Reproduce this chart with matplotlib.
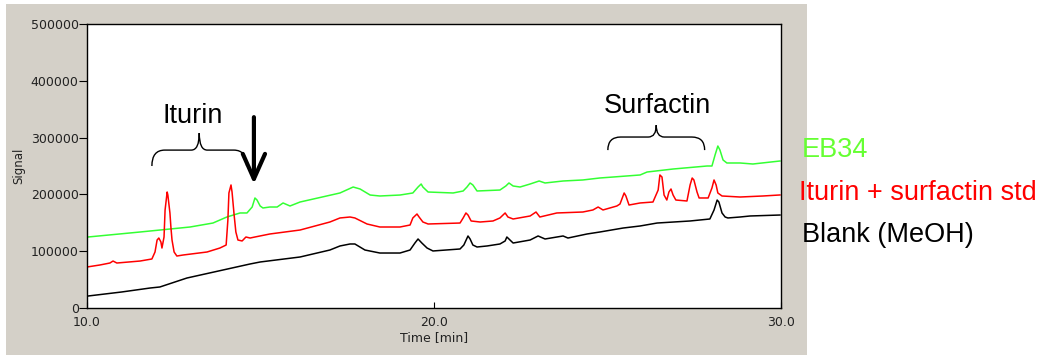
import numpy as np
import matplotlib
matplotlib.use("Agg")
import matplotlib.pyplot as plt
from matplotlib.patches import Rectangle, PathPatch
from matplotlib.path import Path

# chromatogram traces (time in min, signal)
blank_t = [10.03, 11.0, 11.82, 12.10, 12.88, 14.70, 14.99, 16.14, 17.0, 17.29, 17.58, 17.72,
           18.01, 18.44, 19.02, 19.31, 19.45, 19.54, 19.65, 19.80, 19.97, 20.75, 20.86, 20.98,
           21.04, 21.12, 21.24, 21.53, 21.90, 22.05, 22.10, 22.19, 22.28, 22.77, 23.0, 23.2,
           23.72, 23.86, 24.41, 24.78, 25.45, 25.94, 26.43, 27.38, 27.95, 28.07, 28.16, 28.21,
           28.30, 28.39, 28.47, 28.82, 29.11, 29.97]
blank_v = [21100, 28200, 35200, 37000, 52800, 77500, 81000, 89800, 102100, 109200, 112700, 112700,
           102100, 96800, 96800, 102100, 114400, 121500, 114400, 105600, 100400, 103900, 110900, 126800,
           121500, 110900, 107400, 109200, 112700, 118000, 125000, 119700, 114400, 119700, 126800, 121500,
           126800, 123200, 130300, 133800, 140800, 144400, 149600, 153200, 156700, 172500, 190100, 186600,
           167300, 160200, 158500, 160200, 162000, 163700]

std_t = [10.0, 10.37, 10.66, 10.75, 10.86, 11.53, 11.87, 11.96, 12.02, 12.07, 12.13, 12.16,
         12.22, 12.25, 12.31, 12.33, 12.39, 12.42, 12.45, 12.51, 12.59, 12.77, 13.46, 13.83,
         14.01, 14.06, 14.09, 14.15, 14.18, 14.24, 14.29, 14.35, 14.47, 14.58, 14.70, 14.84,
         15.27, 16.14, 17.0, 17.29, 17.58, 17.72, 18.07, 18.44, 19.02, 19.31, 19.39, 19.51,
         19.57, 19.68, 19.83, 20.75, 20.84, 20.92, 20.98, 21.07, 21.33, 21.70, 21.90, 22.05,
         22.13, 22.28, 22.77, 22.94, 23.05, 23.54, 24.29, 24.58, 24.73, 24.87, 25.27, 25.36,
         25.48, 25.53, 25.62, 25.94, 26.31, 26.46, 26.51, 26.57, 26.63, 26.71, 26.77, 26.83,
         26.89, 26.97, 27.29, 27.38, 27.44, 27.49, 27.58, 27.64, 27.90, 28.01, 28.07, 28.13,
         28.18, 28.30, 28.82, 29.48, 29.97]
std_v = [72200, 75700, 79200, 82700, 79200, 82700, 86300, 98600, 119700, 123200, 116200, 105600,
         125000, 172500, 204200, 198900, 167300, 140800, 119700, 98600, 91500, 93300, 98600, 105600,
         110900, 154900, 202500, 216600, 204200, 163700, 133800, 119700, 118000, 125000, 123200, 125000,
         130300, 137300, 151400, 158500, 160200, 158500, 147900, 142600, 142600, 146100, 158500, 165500,
         160200, 151400, 147900, 149600, 158500, 167300, 163700, 153200, 151400, 153200, 158500, 167300,
         160200, 156700, 162000, 169000, 160200, 167300, 169000, 172600, 177800, 172600, 179600, 183100,
         202500, 197200, 181300, 184900, 186600, 207700, 234200, 230600, 198900, 190100, 204200, 209500,
         198900, 190100, 188400, 216600, 228900, 225400, 204200, 193700, 193700, 211300, 225400, 216600,
         202500, 197200, 195400, 197200, 199000]

eb34_t = [10.03, 11.53, 12.97, 13.63, 14.03, 14.41, 14.61, 14.76, 14.84, 14.90, 14.99, 15.07,
          15.27, 15.48, 15.65, 15.85, 16.14, 17.29, 17.67, 17.87, 18.16, 18.44, 19.02, 19.39,
          19.54, 19.63, 19.68, 19.83, 20.55, 20.84, 20.95, 21.04, 21.12, 21.24, 21.90, 22.07,
          22.16, 22.28, 22.48, 22.77, 23.03, 23.2, 23.72, 24.29, 24.78, 25.16, 25.94, 26.14,
          26.89, 27.87, 28.01, 28.10, 28.18, 28.24, 28.33, 28.44, 28.82, 29.19, 29.97]
eb34_v = [125000, 133800, 142600, 149600, 160200, 167300, 167300, 177800, 193700, 190100, 179600, 176100,
          177800, 177800, 184900, 179600, 186600, 202500, 213000, 209500, 198900, 197200, 198900, 202500,
          213000, 218300, 213000, 204200, 202500, 206000, 213000, 220100, 216600, 206000, 207700, 214800,
          220100, 214800, 213000, 218300, 223600, 220100, 223600, 225400, 228900, 230600, 234200, 239400,
          244700, 250000, 250000, 269400, 285200, 278200, 260600, 255300, 255300, 253500, 258800]

labels = ["EB34", "Iturin + surfactin std", "Blank (MeOH)"]
colors = ["#33ff33", "#ff0000", "#000000"]

W, H = 1046, 356
fig = plt.figure(figsize=(W / 100, H / 100), dpi=100)
fig.patches.append(Rectangle((6 / W, 1 / H), 801 / W, 351 / H, transform=fig.transFigure,
                             facecolor="#d4d0c8", edgecolor="none", zorder=-1))

ax = fig.add_axes([87 / W, 48 / H, 694 / W, 284 / H])
ax.set_zorder(1)
ax.plot(eb34_t, eb34_v, color=colors[0], lw=1.1)
ax.plot(std_t, std_v, color=colors[1], lw=1.1)
ax.plot(blank_t, blank_v, color=colors[2], lw=1.1)

ax.set_xlim(10, 30)
ax.set_ylim(0, 500000)
ax.set_xticks([10, 20, 30])
ax.set_xticklabels(["10.0", "20.0", "30.0"])
ax.set_yticks(np.arange(0, 500001, 100000))
ax.set_yticklabels([str(v) for v in range(0, 500001, 100000)])
ax.tick_params(axis="x", direction="in", length=4, pad=6, labelsize=9, labelcolor="#222222")
ax.tick_params(axis="y", direction="out", length=6, pad=0, labelsize=9, labelcolor="#222222")
for s in ax.spines.values():
    s.set_linewidth(1.0)
ax.set_xlabel("Time [min]", fontsize=9, color="#222222", labelpad=1)
ax.set_ylabel("Signal", fontsize=8.5, color="#222222", labelpad=4)


def brace(xl, xr, yb, ym, yt, r, r2):
    xc = (xl + xr) / 2
    verts = [(xl, yb), (xl, ym), (xl + r, ym), (xc - r2, ym), (xc, ym), (xc, yt),
             (xc, ym), (xc + r2, ym), (xr - r, ym), (xr, ym), (xr, yb)]
    codes = [Path.MOVETO, Path.CURVE3, Path.CURVE3, Path.LINETO, Path.CURVE3, Path.CURVE3,
             Path.CURVE3, Path.CURVE3, Path.LINETO, Path.CURVE3, Path.CURVE3]
    return PathPatch(Path(verts, codes), facecolor="none", edgecolor="black", lw=1.0, clip_on=False)


afont = dict(family="Liberation Sans", fontsize=19.5)
ax.add_patch(brace(11.87, 14.60, 250000, 278000, 308000, 0.37, 0.23))
ax.text(13.05, 325700, "Iturin", ha="center", va="baseline", **afont)
ax.add_patch(brace(25.01, 27.80, 278000, 301000, 322000, 0.37, 0.23))
ax.text(26.43, 343300, "Surfactin", ha="center", va="baseline", **afont)
ax.annotate("", xy=(14.81, 218300), xytext=(14.81, 336000),
            arrowprops=dict(arrowstyle="->,head_length=0.9,head_width=0.4", lw=3,
                            color="black", mutation_scale=20, shrinkA=0, shrinkB=0))

fig.text(802 / W, 1 - 157 / H, labels[0], color="#66ff33", va="baseline", **afont)
fig.text(799 / W, 1 - 200 / H, labels[1], color=colors[1], va="baseline", **afont)
fig.text(802 / W, 1 - 242 / H, labels[2], color=colors[2], va="baseline", **afont)

fig.savefig("out.png", dpi=100)
